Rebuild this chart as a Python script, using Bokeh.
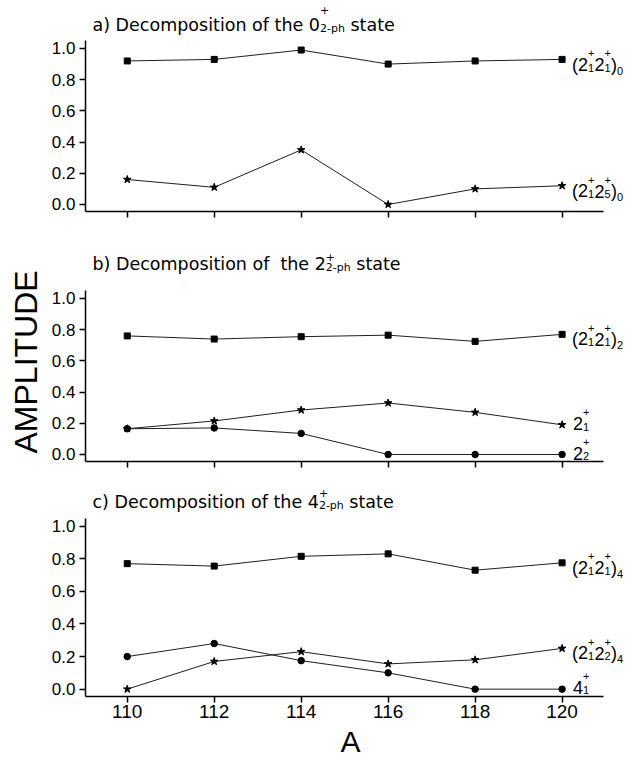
from bokeh.plotting import figure
from bokeh.layouts import column
from bokeh.models import (Label, Title, FixedTicker, Range1d, PrintfTickFormatter,
                          CustomJSTickFormatter)
from bokeh.embed import file_html
from bokeh.resources import INLINE

# ---------------- data ----------------
A = [110, 112, 114, 116, 118, 120]
Y_TICKS = [0.0, 0.2, 0.4, 0.6, 0.8, 1.0]
X_AXIS = (109.04, 120.96)      # visible extent of the x axis
Y_AXIS = (-0.045, 1.05)        # visible extent of the y axis
X_END = 121.55                 # frame reaches further right for the series labels

# panel a: decomposition of the 0+_2-ph state
a_2121_0 = [0.92, 0.93, 0.99, 0.90, 0.92, 0.93]
a_2125_0 = [0.16, 0.11, 0.35, 0.00, 0.10, 0.12]
# panel b: decomposition of the 2+_2-ph state
b_2121_2 = [0.76, 0.74, 0.755, 0.765, 0.725, 0.77]
b_21 = [0.165, 0.215, 0.285, 0.33, 0.27, 0.19]
b_22 = [0.165, 0.17, 0.135, 0.0, 0.0, 0.0]
# panel c: decomposition of the 4+_2-ph state
c_2121_4 = [0.77, 0.755, 0.815, 0.83, 0.73, 0.775]
c_2122_4 = [0.0, 0.17, 0.23, 0.155, 0.18, 0.25]
c_41 = [0.20, 0.28, 0.175, 0.10, 0.0, 0.0]

# rich-text label specs: ("t", text) normal, ("s", sup, sub) stacked, ("b", sub) trailing subscript, ("g", px) gap
L_2121_0 = [("t", "(2"), ("s", "+", "1"), ("t", "2"), ("s", "+", "1"), ("t", ")"), ("b", "0")]
L_2125_0 = [("t", "(2"), ("s", "+", "1"), ("t", "2"), ("s", "+", "5"), ("t", ")"), ("b", "0")]
L_2121_2 = [("t", "(2"), ("s", "+", "1"), ("t", "2"), ("s", "+", "1"), ("t", ")"), ("b", "2")]
L_21 = [("t", "2"), ("s", "+", "1")]
L_22 = [("t", "2"), ("s", "+", "2")]
L_2121_4 = [("t", "(2"), ("s", "+", "1"), ("t", "2"), ("s", "+", "1"), ("t", ")"), ("b", "4")]
L_2122_4 = [("t", "(2"), ("s", "+", "1"), ("t", "2"), ("s", "+", "2"), ("t", ")"), ("b", "4")]
L_41 = [("t", "4"), ("s", "+", "1")]

T_A = [("t", "a) Decomposition of the 0"), ("s", "+", "2-ph"), ("t", " state")]
T_B = [("t", "b) Decomposition of"), ("g", 11), ("t", "the 2"), ("s", "+", "2-ph"), ("t", " state")]
T_C = [("t", "c) Decomposition of the 4"), ("s", "+", "2-ph"), ("t", " state")]

Y_LABEL = "AMPLITUDE"
X_LABEL = "A"

# ---------------- text metrics ----------------
W_LIB = {" ": .278, "(": .333, ")": .333, "+": .584, "-": .333, "a": .556, "b": .556, "c": .5,
         "D": .722, "e": .556, "f": .278, "h": .556, "i": .222, "m": .833, "n": .556, "o": .556,
         "p": .556, "s": .5, "t": .278}
W_DJV = {" ": .318, "(": .390, ")": .390, "+": .838, "-": .361, "a": .613, "b": .635, "c": .550,
         "D": .770, "e": .615, "f": .352, "h": .634, "i": .278, "m": .974, "n": .634, "o": .612,
         "p": .635, "s": .521, "t": .392}
for d in "0123456789":
    W_LIB[d] = .556
    W_DJV[d] = .636


def tw(s, size, table):
    return sum(table.get(ch, 0.6) for ch in s) * size


def rich(p, x, y, parts, dx, dy, font, size, small, table, sup_up, sub_dn, tail_dn):
    cur = dx

    def put(txt, xo, yo, sz):
        p.add_layout(Label(x=x, y=y, x_offset=xo, y_offset=yo, text=txt, text_font=font,
                           text_font_size=f"{sz}px", text_baseline="alphabetic",
                           text_align="left", text_color="black"))

    for part in parts:
        kind = part[0]
        if kind == "t":
            txt = part[1]
            lead = len(txt) - len(txt.lstrip(" "))
            cur += tw(" " * lead, size, table)
            txt = txt.lstrip(" ")
            put(txt, cur, dy, size)
            cur += tw(txt, size, table)
        elif kind == "g":
            cur += part[1]
        elif kind == "s":
            sup, sub = part[1], part[2]
            put(sup, cur, dy + sup_up, small)
            put(sub, cur, dy - sub_dn, small)
            cur += max(tw(sup, small, table), tw(sub, small, table))
        elif kind == "b":
            put(part[1], cur, dy - tail_dn, small)
            cur += tw(part[1], small, table)


FONT = "Liberation Sans"
TFONT = "DejaVu Sans"
W = 629


def make_fig(h, bottom, y_end, show_x_labels):
    p = figure(width=W, height=h, x_range=Range1d(X_AXIS[0], X_END),
               y_range=Range1d(Y_AXIS[0], y_end),
               output_backend="svg", toolbar_location=None,
               min_border_left=81, min_border_right=0,
               min_border_top=0, min_border_bottom=bottom)
    p.grid.visible = False
    p.outline_line_color = None
    p.background_fill_color = "white"
    p.border_fill_color = "white"
    for ax in (p.xaxis[0], p.yaxis[0]):
        ax.axis_line_width = 1.5
        ax.axis_line_color = "black"
        ax.major_tick_line_width = 1.5
        ax.major_tick_line_color = "black"
        ax.major_tick_out = 6
        ax.major_tick_in = 0
        ax.minor_tick_line_color = None
        ax.major_label_text_font = FONT
        ax.major_label_text_color = "black"
    p.xaxis.bounds = X_AXIS
    p.yaxis.bounds = Y_AXIS
    p.yaxis.ticker = FixedTicker(ticks=Y_TICKS)
    p.yaxis.formatter = PrintfTickFormatter(format="%.1f")
    p.yaxis.major_label_text_font_size = "17px"
    p.yaxis.major_label_standoff = 4
    p.xaxis.ticker = FixedTicker(ticks=A)
    p.xaxis.major_label_text_font_size = "19px"
    p.xaxis.major_label_standoff = 2
    if not show_x_labels:
        p.xaxis.formatter = CustomJSTickFormatter(code="return ''")
    return p


def add_series(p, vals, marker, size, parts, dx, dy):
    p.line(A, vals, line_color="#1e1e1e", line_width=1)
    p.scatter(A, vals, marker=marker, size=size, fill_color="black", line_color="black")
    rich(p, A[-1], vals[-1], parts, dx, dy, FONT, 18, 11, W_LIB, 11.5, 3, 6)


def add_title(p, parts, dy, sup_up):
    rich(p, X_AXIS[0], Y_AXIS[1], parts, 7, dy, TFONT, 17.5, 11, W_DJV, sup_up, 3, 3)


# panel a
pa = make_fig(248, 37, 1.3076, False)
add_series(pa, a_2121_0, "square", 6, L_2121_0, 10, -5.5)
add_series(pa, a_2125_0, "star", 8, L_2125_0, 10, -5.5)
add_title(pa, T_A, 15.2, 15)

# panel b
pb = make_fig(239, 26, 1.3204, False)
add_series(pb, b_2121_2, "square", 6, L_2121_2, 10, -5)
add_series(pb, b_21, "star", 8, L_21, 11, 1)
add_series(pb, b_22, "circle", 6.5, L_22, 11, 1)
add_title(pb, T_B, 26.2, 7)
pb.add_layout(Title(text=Y_LABEL, align="left", offset=8, vertical_align="bottom",
                    text_font=FONT, text_font_size="32px", text_font_style="normal",
                    text_color="black", standoff=10), "left")

# panel c (with the x-axis title "A" underneath)
pc = make_fig(279, 70, 1.2372, True)
add_series(pc, c_2121_4, "square", 6, L_2121_4, 10, -5)
add_series(pc, c_2122_4, "star", 8, L_2122_4, 10, -5)
add_series(pc, c_41, "circle", 6.5, L_41, 11, 2)
add_title(pc, T_C, 15.85, 9)
pc.add_layout(Title(text=X_LABEL, align="left", offset=255, vertical_align="bottom",
                    text_font=FONT, text_font_size="30px", text_font_style="normal",
                    text_color="black", standoff=4), "below")

layout = column(pa, pb, pc)
open("out.html", "w").write(file_html(layout, INLINE))
